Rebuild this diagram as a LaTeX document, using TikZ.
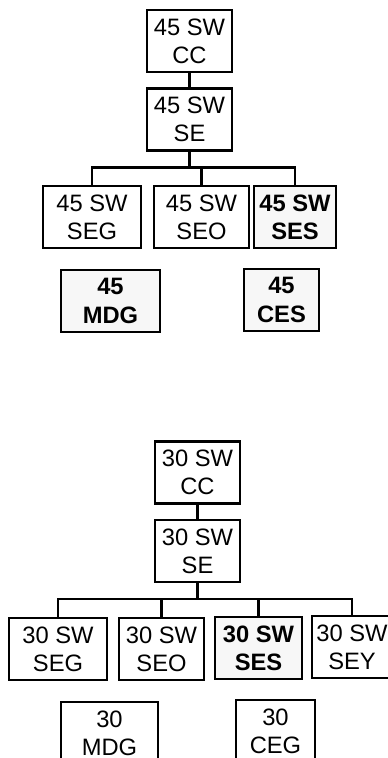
\documentclass[tikz,border=0pt]{standalone}
\usepackage{fontspec}
\setmainfont{Liberation Sans}
\begin{document}
\begin{tikzpicture}[
    x=0.02cm, y=-0.02cm,
    box/.style={draw=black, line width=1.3pt, minimum height=1.24cm, inner sep=1pt, align=center, font=\fontsize{13.5}{16}\selectfont},
    hl/.style={box, fill=black!3, font=\fontsize{13.5}{16}\selectfont\bfseries},
    link/.style={line width=1.3pt}
]
    \useasboundingbox (0,0) rectangle (388,758);
    \clip (0,0) rectangle (388,758);

    % 45 SW chart
    \node[box, minimum width=1.7cm] (cc45) at (189.5,41) {45 SW\\CC};
    \node[box, minimum width=1.7cm] (se45) at (189.5,119.5) {45 SW\\SE};
    \node[box, minimum width=1.96cm] (seg45) at (92,217) {45 SW\\SEG};
    \node[box, minimum width=1.9cm] (seo45) at (201.5,217) {45 SW\\SEO};
    \node[hl, minimum width=1.64cm] (ses45) at (295,217) {45 SW\\SES};
    \node[hl, minimum width=1.98cm] (mdg45) at (110.5,301) {45\\MDG};
    \node[hl, minimum width=1.5cm] (ces45) at (281.5,300) {45\\CES};

    \draw[link] (cc45) -- (se45);
    \draw[link] (se45.south) -- ++(0,16) coordinate (bus45);
    \draw[link] (bus45) -| (seg45.north);
    \draw[link] (bus45) -| (seo45.north);
    \draw[link] (bus45) -| (ses45.north);

    % 30 SW chart
    \node[box, minimum width=1.7cm] (cc30) at (197.5,472.5) {30 SW\\CC};
    \node[box, minimum width=1.7cm] (se30) at (197.5,551) {30 SW\\SE};
    \node[box, minimum width=1.96cm] (seg30) at (58,649) {30 SW\\SEG};
    \node[box, minimum width=1.7cm] (seo30) at (161.5,649) {30 SW\\SEO};
    \node[hl, minimum width=1.74cm] (ses30) at (258.5,648) {30 SW\\SES};
    \node[box, minimum width=1.6cm] (sey30) at (352,647) {30 SW\\SEY};
    \node[box, minimum width=1.94cm] (mdg30) at (109.5,733) {30\\MDG};
    \node[box, minimum width=1.58cm] (ceg30) at (275.5,731) {30\\CEG};

    \draw[link] (cc30) -- (se30);
    \draw[link] (se30.south) -- ++(0,16) coordinate (bus30);
    \draw[link] (bus30) -| (seg30.north);
    \draw[link] (bus30) -| (seo30.north);
    \draw[link] (bus30) -| (ses30.north);
    \draw[link] (bus30) -| (sey30.north);
\end{tikzpicture}
\end{document}
